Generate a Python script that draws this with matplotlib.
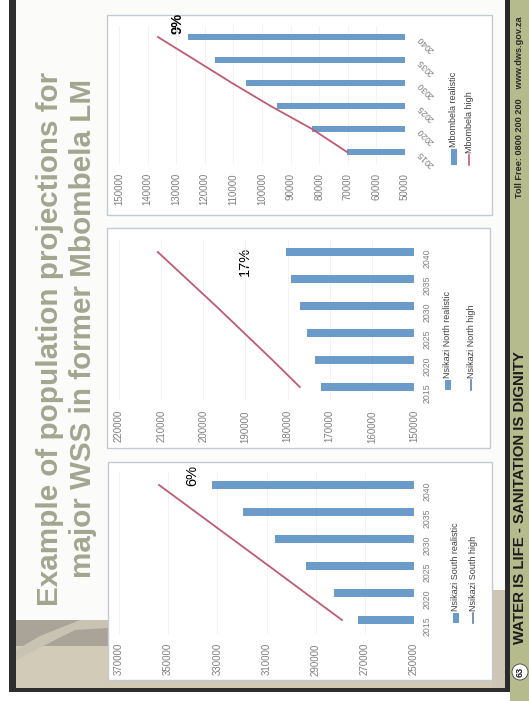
import matplotlib
matplotlib.use("Agg")
import matplotlib.pyplot as plt
from matplotlib.patches import Rectangle, Circle, Polygon

W, H = 529, 701

years = ["2015", "2020", "2025", "2030", "2035", "2040"]

mbombela_realistic = [70300, 82500, 94800, 105600, 116400, 125700]
mbombela_high = [70300, 82500, 97000, 110500, 123400, 136400]
mbombela_ticks = list(range(50000, 150001, 10000))

north_realistic = [172100, 173500, 175300, 177100, 179100, 180300]
north_high = [177100, 183600, 190300, 197000, 203900, 210800]
north_ticks = list(range(150000, 220001, 10000))

south_realistic = [272800, 282500, 294100, 306500, 319400, 332200]
south_high = [279300, 294200, 309000, 323900, 338800, 353700]
south_ticks = list(range(250000, 370001, 20000))

BLUE = "#6b9bc8"
RED = "#bf5b73"
GRAY = "#7f7f7f"
TITLE = "#a2a68f"

plt.rcParams["font.family"] = ["Liberation Sans", "DejaVu Sans"]


def box(x0, y0, x1, y1):
    # pixel box (top-left origin) -> figure fraction
    return [x0 / W, 1 - y1 / H, (x1 - x0) / W, (y1 - y0) / H]


def draw_chart(fig, bg, frame, area, realistic, high, ticks, names, year_rot, year_pad, bar_h, leg):
    fx0, fy0, fx1, fy1 = frame
    bg.add_patch(Rectangle((fx0, fy0), fx1 - fx0, fy1 - fy0, facecolor="white",
                           edgecolor="#c3cad4", linewidth=1.0, zorder=2))

    ax = fig.add_axes(box(*area))
    ax.patch.set_alpha(0)
    pos = list(range(len(years)))
    ax.barh(pos, realistic, height=bar_h, color=BLUE, zorder=2)
    ax.plot(high, pos, color=RED, linewidth=1.3, zorder=3)
    ax.set_xlim(ticks[-1], ticks[0])
    ax.set_ylim(-0.5, len(years) - 0.5)
    ax.set_xticks(ticks, [str(t) for t in ticks])
    ax.tick_params(axis="x", length=0, pad=7, labelsize=7, labelcolor=GRAY, labelrotation=90)
    ax.yaxis.tick_right()
    ax.set_yticks(pos, years)
    ax.tick_params(axis="y", length=0, pad=year_pad, labelsize=6.3, labelcolor=GRAY)
    for lab in ax.get_yticklabels():
        lab.set_rotation(year_rot)
    ax.grid(axis="x", color="#f1f1f1", linewidth=0.6, zorder=0)
    for s in ax.spines.values():
        s.set_visible(False)

    # legend, drawn upright in the rotated slide
    px, py, lx, patch_len = leg
    bg.add_patch(Rectangle((px - 3, py - patch_len), 6, patch_len, facecolor=BLUE,
                           edgecolor="none", zorder=3))
    bg.plot([lx, lx], [py - 10, py], color=RED if "Mbombela" in names[0] else "#5b7fb0",
            linewidth=1.2, zorder=3)
    bg.text(px, py - patch_len - 2, names[0], rotation=90, ha="center", va="bottom",
            fontsize=6.5, color="#404040", zorder=4)
    bg.text(lx, py - 12, names[1], rotation=90, ha="center", va="bottom",
            fontsize=6.5, color="#404040", zorder=4)
    return ax


fig = plt.figure(figsize=(W / 100, H / 100), dpi=100)
fig.patch.set_facecolor("white")

bg = fig.add_axes([0, 0, 1, 1])
bg.set_xlim(0, W)
bg.set_ylim(H, 0)
bg.axis("off")

# slide background and photo strip at the bottom
bg.add_patch(Rectangle((16, 0), 491, 689, facecolor="#fbfbfa", edgecolor="none", zorder=0))
bg.add_patch(Rectangle((16, 628), 491, 61, facecolor="#d2cbb7", edgecolor="none", zorder=1))
bg.add_patch(Rectangle((16, 620), 92, 26, facecolor="#aaa498", edgecolor="none", zorder=1))
bg.add_patch(Polygon([(16, 650), (40, 636), (60, 628), (80, 620), (108, 620), (108, 628),
                      (75, 630), (45, 645), (16, 660)], closed=True,
                     facecolor="#c9c3b3", edgecolor="none", zorder=1))
bg.add_patch(Rectangle((492, 590), 15, 99, facecolor="#cdc6b4", edgecolor="none", zorder=1))

# dark frame edges and green footer strip
bg.add_patch(Rectangle((9, 0), 7, 692, facecolor="#2f2f2f", edgecolor="none", zorder=5))
bg.add_patch(Rectangle((9, 688), 501, 4, facecolor="#2f2f2f", edgecolor="none", zorder=5))
bg.add_patch(Rectangle((505, 0), 5, 692, facecolor="#2a2a2a", edgecolor="none", zorder=5))
bg.add_patch(Rectangle((510, 0), 19, 701, facecolor="#b5bb8c", edgecolor="none", zorder=5))

bg.text(519.5, 498, "WATER IS LIFE - SANITATION IS DIGNITY", rotation=90, ha="center",
        va="center", fontsize=10.8, fontweight="bold", color="#1c1c1c", zorder=6)
bg.text(519.5, 107, "Toll Free: 0800 200 200    www.dws.gov.za", rotation=90, ha="center",
        va="center", fontsize=6.6, fontweight="bold", color="#2a2a2a", zorder=6)
bg.add_patch(Circle((520, 672), 8, facecolor="white", edgecolor="#444444", linewidth=0.6, zorder=6))
bg.text(520, 672, "63", rotation=90, ha="center", va="center", fontsize=6.5,
        fontweight="bold", color="#1c1c1c", zorder=7)

# slide title
bg.text(50, 339, "Example of population projections for", rotation=90, ha="center",
        va="center", fontsize=21.3, fontweight="bold", color=TITLE, zorder=3)
bg.text(83, 328, "major WSS in former Mbombela LM", rotation=90, ha="center",
        va="center", fontsize=21.3, fontweight="bold", color=TITLE, zorder=3)

draw_chart(fig, bg, (107, 15, 492, 215), (119, 25.5, 405, 163.5),
           mbombela_realistic, mbombela_high, mbombela_ticks,
           ["Mbombela realistic", "Mbombela high"], 135, 8, 0.3,
           (454, 165, 469, 16))
draw_chart(fig, bg, (107, 228, 490, 448), (119, 238.5, 414, 400.5),
           north_realistic, north_high, north_ticks,
           ["Nsikazi North realistic", "Nsikazi North high"], 90, 6, 0.28,
           (448, 390, 471, 10))
draw_chart(fig, bg, (108, 462, 492, 680), (119, 471.5, 414, 633.5),
           south_realistic, south_high, south_ticks,
           ["Nsikazi South realistic", "Nsikazi South high"], 90, 6, 0.28,
           (456, 623, 473, 10))

bg.text(177, 23, "9%", rotation=90, ha="center", va="center", fontsize=10.5,
        fontweight="bold", color="black", zorder=4)
bg.text(245, 261, "17%", rotation=90, ha="center", va="center", fontsize=10.5,
        color="black", zorder=4)
bg.text(192, 476, "6%", rotation=90, ha="center", va="center", fontsize=10.5,
        color="black", zorder=4)

fig.savefig("out.png", dpi=100)
